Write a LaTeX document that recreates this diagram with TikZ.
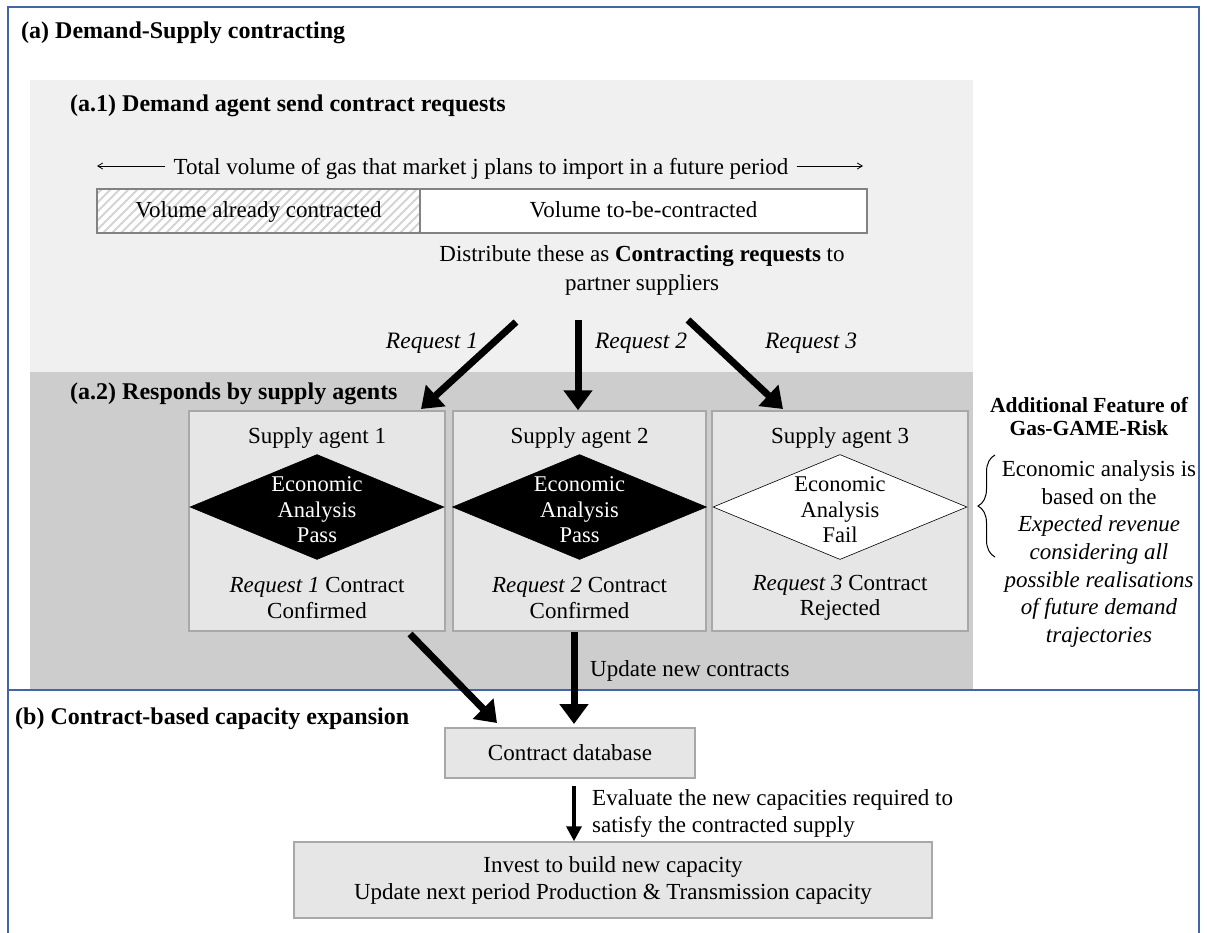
\documentclass[tikz,border=0pt]{standalone}
\usepackage{fontspec}
\setmainfont{Liberation Serif}
\usetikzlibrary{arrows.meta,shapes.geometric,decorations.pathreplacing}
\definecolor{frameblue}{RGB}{68,100,168}
\definecolor{panelA}{RGB}{240,240,240}
\definecolor{panelB}{RGB}{205,205,205}
\definecolor{boxfill}{RGB}{230,230,230}
\definecolor{boxline}{RGB}{168,168,168}
\definecolor{hatchc}{RGB}{212,212,212}
\definecolor{barline}{RGB}{130,130,130}
\begin{document}
\begin{tikzpicture}[x=1pt,y=-1pt,
  txt/.style={font=\fontsize{23}{25.5}\selectfont, inner sep=0pt, align=center, yshift=-2.5pt},
  wtxt/.style={txt, text=white, font=\fontsize{22.5}{25.5}\selectfont, yshift=-0.5pt},
  ttl/.style={font=\fontsize{24}{26}\selectfont\bfseries, inner sep=0pt, anchor=west, yshift=-2.5pt},
  agentbox/.style={draw=boxline, line width=1.5pt, fill=boxfill, minimum height=220pt, inner sep=0pt},
  flowbox/.style={draw=boxline, line width=1.5pt, fill=boxfill, inner sep=0pt},
  decision/.style={diamond, draw=black, line width=0.6pt, minimum width=254pt, minimum height=105pt, inner sep=0pt},
  bigarrow/.style={line width=7pt, -{Triangle[length=20pt,width=28pt]}},
  midarrow/.style={line width=3.5pt, -{Triangle[length=15pt,width=15pt]}},
  thinarrow/.style={line width=0.8pt, -{Straight Barb[length=5pt,width=6pt]}},
  barpart/.style={draw=barline, line width=1.5pt, minimum height=44pt, inner sep=0pt, text height=18pt, text depth=5pt, font=\fontsize{23}{25}\selectfont},
  req/.style={txt, font=\fontsize{23.5}{25}\selectfont\itshape}
]
\useasboundingbox (0,0) rectangle (1207,932);
\fill[white] (0,0) rectangle (1207,932);

% panels
\fill[panelA] (30,80) rectangle (973,372);
\fill[panelB] (30,372) rectangle (973,690);

% frame
\draw[frameblue, line width=1.5pt] (8,934) -- (8,7) -- (1199,7) -- (1199,934);
\draw[frameblue, line width=1.5pt] (8,690) -- (1199,690);

% titles
\node[ttl] (ta) at (21,30) {(a) Demand-Supply contracting};
\node[ttl] (ta1) at (70,103) {(a.1) Demand agent send contract requests};
\node[ttl] (ta2) at (70,391) {(a.2) Responds by supply agents};
\node[ttl] (tb) at (15,716) {(b) Contract-based capacity expansion};

% total volume line
\node[txt, inner xsep=8pt] (tv) at (481,166) {Total volume of gas that market j plans to import in a future period};
\coordinate (tvl) at (97,166);
\coordinate (tvr) at (863,166);
\draw[thinarrow] (tv.west |- tvl) -- (tvl);
\draw[thinarrow] (tv.east |- tvr) -- (tvr);

% bar
\begin{scope}
\clip (97,189) rectangle (420,233);
\fill[white] (97,189) rectangle (420,233);
\foreach \x in {40,49,...,430} {\draw[hatchc, line width=2pt] (\x,233) -- (\x+44,189);}
\end{scope}
\node[barpart, minimum width=323pt] (vac) at (258.5,211) {Volume already contracted};
\node[barpart, fill=white, minimum width=447pt] (vtb) at (643.5,211) {Volume to-be-contracted};

\node[txt, align=center, font=\fontsize{23}{29}\selectfont] (dist) at (642,267.5) {Distribute these as \textbf{Contracting requests} to\\partner suppliers};

% supply agents
\node[agentbox, minimum width=256pt] (s1) at (317,521) {};
\node[agentbox, minimum width=253pt] (s2) at (579.5,521) {};
\node[agentbox, minimum width=256pt] (s3) at (840,521) {};

\node[txt] (sa1) at (317,435) {Supply agent 1};
\node[txt] (sa2) at (579.5,435) {Supply agent 2};
\node[txt] (sa3) at (840,435) {Supply agent 3};

\node[decision, fill=black] (d1) at (317,507) {};
\node[decision, fill=black] (d2) at (579.5,507) {};
\node[decision, fill=white] (d3) at (840,507) {};
\node[wtxt] (e1) at (d1.center) {Economic\\Analysis\\Pass};
\node[wtxt] (e2) at (d2.center) {Economic\\Analysis\\Pass};
\node[wtxt, text=black] (e3) at (d3.center) {Economic\\Analysis\\Fail};

\node[txt] (c1) at (317,595.5) {\textit{Request 1} Contract\\Confirmed};
\node[txt] (c2) at (579.5,595.5) {\textit{Request 2} Contract\\Confirmed};
\node[txt] (c3) at (840,595.5) {\textit{Request 3} Contract\\Rejected};

% request arrows
\coordinate (r1s) at (516,322);
\coordinate (r2s) at (578,320);
\coordinate (r3s) at (688,320);
\coordinate (r1e) at (421,409);
\coordinate (r3e) at (783,409);
\draw[bigarrow] (r1s) -- (r1e);
\draw[bigarrow] (r2s) -- (r2s |- s2.north);
\draw[bigarrow] (r3s) -- (r3e);
\node[req] (q1) at (432,341) {Request 1};
\node[req] (q2) at (641,341) {Request 2};
\node[req] (q3) at (811,341) {Request 3};

% additional feature
\node[inner sep=0pt, align=center, font=\fontsize{21.5}{23}\selectfont\bfseries] (af) at (1089,417) {Additional Feature of\\Gas-GAME-Risk};
\coordinate (brb) at (995,557);
\coordinate (brt) at (995,455);
\draw[line width=1pt, decoration={brace, amplitude=17pt}, decorate] (brb) -- (brt);
\node[inner sep=0pt, align=center, font=\fontsize{23}{27.7}\selectfont] (ea) at (1099,554) {Economic analysis is\\based on the\\\textit{Expected revenue}\\\textit{considering all}\\\textit{possible realisations}\\\textit{of future demand}\\\textit{trajectories}};

% lower part
\node[flowbox, minimum width=250pt, minimum height=50pt, font=\fontsize{23}{25}\selectfont] (db) at (570,753) {Contract database};
\coordinate (u1s) at (410,634);
\coordinate (u1e) at (497,723);
\coordinate (u2s) at (574,632);
\coordinate (u2e) at (574,724);
\draw[bigarrow] (u1s) -- (u1e);
\draw[bigarrow] (u2s) -- (u2e);
\node[txt, anchor=west] (unc) at (590,668) {Update new contracts};

\node[flowbox, minimum width=638pt, minimum height=76pt, align=center, font=\fontsize{23}{27}\selectfont] (inv) at (613,880) {Invest to build new capacity\\Update next period Production \& Transmission capacity};
\coordinate (ev) at (574,786);
\draw[midarrow] (ev) -- (ev |- inv.north);
\node[txt, anchor=west, align=left, font=\fontsize{23}{27}\selectfont] (evt) at (592,810.5) {Evaluate the new capacities required to\\satisfy the contracted supply};
\end{tikzpicture}
\end{document}
